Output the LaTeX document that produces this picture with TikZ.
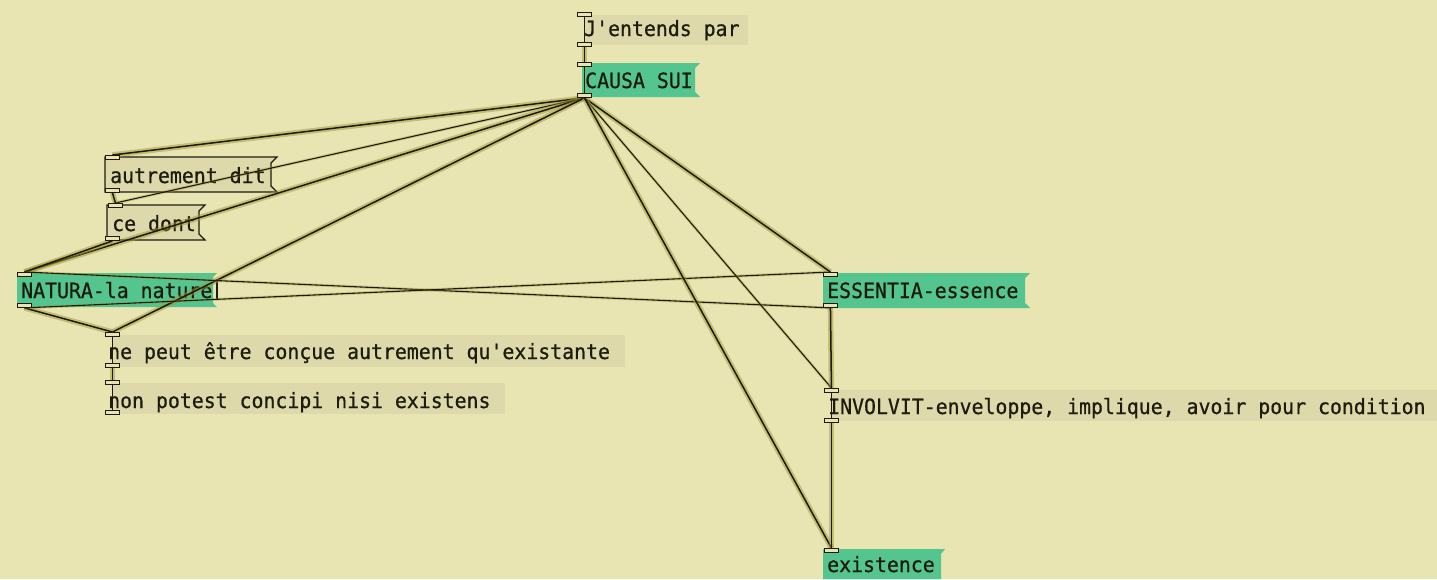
\documentclass[tikz,border=0pt]{standalone}
\usepackage{fontspec}
\newfontfamily\pdmono[FakeStretch=0.945,FakeBold=0.7]{DejaVu Sans Mono}
\definecolor{canvas}{RGB}{233,229,179}
\definecolor{shade}{RGB}{221,217,170}
\definecolor{msggreen}{RGB}{84,197,142}
\definecolor{ink}{RGB}{28,27,12}
\definecolor{halo}{RGB}{160,150,55}

\pgfdeclarelayer{boxes}
\pgfdeclarelayer{wires}
\pgfsetlayers{boxes,wires,main}

\tikzset{
  port/.style={draw=ink, fill=canvas, line width=0.9pt, minimum width=14pt,
    minimum height=4pt, inner sep=0pt, anchor=north west},
  wire/.style={draw=ink, line width=1.5pt,
    preaction={draw=halo, line width=5.5pt, opacity=.5}},
  thinwire/.style={draw=ink, line width=1.1pt,
    preaction={draw=halo, line width=3pt, opacity=.35}},
  txt/.style={anchor=base west, inner sep=0pt,
    font=\pdmono\fontsize{21}{22}\selectfont, text=ink},
  leftedge/.style={draw=ink, line width=1.2pt},
  msgframe/.style={draw=ink, line width=1.2pt, fill=shade},
  msgfill/.style={fill=msggreen},
  cmtfill/.style={fill=shade},
}

% message box outline with the flag-shaped right edge
\newcommand\flagbox[6]{%
  \path[#1] (#2,#3) -- (#4,#3) -- (#4-#6,#3+#6) -- (#4-#6,#5-#6) -- (#4,#5) -- (#2,#5) -- cycle;}

\begin{document}
\begin{tikzpicture}[x=1pt,y=-1pt]
\useasboundingbox (0,0) rectangle (1437,579);

\begin{pgfonlayer}{boxes}
  \fill[canvas] (0,0) rectangle (1437,579);
  % comments
  \fill[cmtfill] (584,15) rectangle (748,45);
  \fill[cmtfill] (112,335) rectangle (625,367);
  \fill[cmtfill] (112,383) rectangle (505,414);
  \fill[cmtfill] (831,390) rectangle (1437,421);
  % green messages
  \flagbox{msgfill}{582}{63}{700}{97}{5}
  \flagbox{msgfill}{17}{273}{217}{307}{4}
  \flagbox{msgfill}{823}{273}{1030}{308}{5}
  \path[msgfill] (823,549) -- (945,549) -- (941,554) -- (941,579) -- (823,579) -- cycle;
  % framed messages
  \flagbox{msgframe}{105}{157}{277}{192}{6}
  \flagbox{msgframe}{107}{205}{205}{240}{6}
  \draw[leftedge] (217,279) -- (217,300);
  % texts
  \node[txt] (jtxt)   at (584,36)  {J'entends par};
  \node[txt] (causa)  at (585,88)  {CAUSA SUI};
  \node[txt] (autr)   at (110,183) {autrement dit};
  \node[txt] (cedont) at (112,231) {ce dont};
  \node[txt] (natura) at (21,298)  {NATURA-la nature};
  \node[txt] (essent) at (827,298) {ESSENTIA-essence};
  \node[txt] (nepeut) at (108,359) {ne peut être conçue autrement qu'existante};
  \node[txt] (nonpot) at (108,408) {non potest concipi nisi existens};
  \node[txt] (involv) at (828,414) {INVOLVIT-enveloppe, implique, avoir pour condition};
  \node[txt] (exist)  at (827,572) {existence};
\end{pgfonlayer}

% inlets and outlets
\node[port] (jin)      at (577,12)  {};
\node[port] (jout)     at (577,42)  {};
\node[port] (causain)  at (577,62)  {};
\node[port] (causaout) at (577,93)  {};
\node[port] (autin)    at (105,155) {};
\node[port] (autout)   at (105,188) {};
\node[port] (cedin)    at (108,203) {};
\node[port] (cedout)   at (105,236) {};
\node[port] (natin)    at (17,272)  {};
\node[port] (natout)   at (17,303)  {};
\node[port] (essin)    at (823,272) {};
\node[port] (essout)   at (823,303) {};
\node[port] (nein)     at (105,332) {};
\node[port] (neout)    at (105,363) {};
\node[port] (nonin)    at (105,380) {};
\node[port] (nonout)   at (105,410) {};
\node[port] (involin)  at (824,388) {};
\node[port] (involout) at (824,418) {};
\node[port] (exin)     at (824,548) {};

\begin{pgfonlayer}{wires}
  % left borders of the boxes
  \draw[leftedge] (jin.center) -- (jout.center);
  \draw[leftedge] (causain.center) -- (causaout.center);
  \draw[leftedge] (nein.center) -- (neout.center);
  \draw[leftedge] (nonin.center) -- (nonout.center);
  \draw[leftedge] (involin.center) -- (involout.center);
  % connections
  \draw[wire] (jout.south) -- (causain.north);
  \draw[wire] (causaout.south) -- (autin.north);
  \draw[thinwire] (causaout.south) -- (cedin.north);
  \draw[wire] (causaout.south) -- (natin.north);
  \draw[wire] (causaout.south) -- (nein.north);
  \draw[wire] (autout.south) -- (cedin.north);
  \draw[wire] (cedout.south) -- (natin.north);
  \draw[wire] (natout.south) -- (nein.north);
  \draw[wire] (neout.south) -- (nonin.north);
  \draw[thinwire] (natin.north) -- (essout.south);
  \draw[thinwire] (natout.south) -- (essin.north);
  \draw[wire] (causaout.south) -- (essin.north);
  \draw[thinwire] (causaout.south) -- (involin.north);
  \draw[wire] (causaout.south) -- (exin.north);
  \draw[wire] (essout.south) -- (involin.north);
  \draw[wire] (involout.south) -- (exin.north);
\end{pgfonlayer}
\end{tikzpicture}
\end{document}
